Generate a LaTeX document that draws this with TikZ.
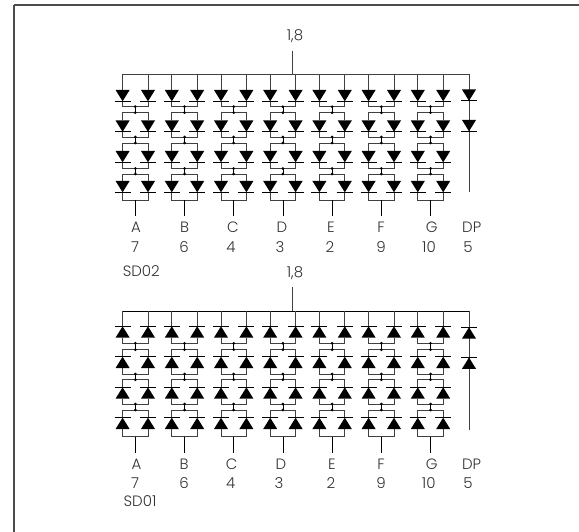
\documentclass[tikz,border=0pt]{standalone}
\usepackage{fontspec}
\setmainfont{Poppins Light}
\tikzset{
  wire/.style={line width=0.8pt,draw=black!75},
  lab/.style={font=\fontsize{15pt}{16pt}\selectfont,text=black!80,inner sep=0pt,anchor=center},
  junc/.style={circle,fill=black,inner sep=0pt,minimum size=3pt},
}
\newcommand{\ddown}[2]{%
  \fill (#1-7,-#2) -- (#1+7,-#2) -- (#1,-#2-11.3) -- cycle;
  \draw[wire,draw=black] (#1-8,-#2-11.3) -- (#1+8,-#2-11.3);
}
\newcommand{\dup}[2]{%
  \fill (#1-7,-#2-11.3) -- (#1+7,-#2-11.3) -- (#1,-#2) -- cycle;
  \draw[wire,draw=black] (#1-8,-#2) -- (#1+8,-#2);
}
\begin{document}
\begin{tikzpicture}[x=1pt,y=1pt]
\useasboundingbox (0,0) rectangle (579,-532);
\coordinate (fa) at (14,-532);
\coordinate (fb) at (14,-5);
\coordinate (fc) at (579,-5);
\draw[line width=1.6pt,draw=black!70] (fa) -- (fb);
\draw[line width=1.1pt,draw=black!70] (fb) -- (fc);
% --- top
\coordinate (busA) at (122.5,-74.3);
\coordinate (busB) at (469,-74.3);
\draw[wire] (busA) -- (busB);
\coordinate (topin) at (292.5,-50.7);
\coordinate (topbus) at (292.5,-74.3);
\draw[wire] (topin) -- (topbus);
\node[lab] (t18) at (295,-36) {1,8};
\foreach \i in {0,...,6}{
  \pgfmathsetmacro{\xm}{135.3+49.2*\i}
  \pgfmathsetmacro{\xl}{\xm-12.7}
  \pgfmathsetmacro{\xr}{\xm+12.7}
  \foreach \ya/\yb/\yc/\yd in {90/120.5/106.7/112.7,120.5/151/137/143,151/181/168.5/174}{
    \draw[wire] (\xl,-\ya-11.3) -- (\xl,-\yc) -- (\xr,-\yc) -- (\xr,-\ya-11.3);
    \draw[wire] (\xl,-\yb) -- (\xl,-\yd) -- (\xr,-\yd) -- (\xr,-\yb);
    \draw[wire,draw=black] (\xm,-\yc) -- (\xm,-\yd);
    \node[junc] at (\xm,-\yc) {};
    \node[junc] at (\xm,-\yd) {};
  }
  \draw[wire] (\xl,-74.3) -- (\xl,-90);
  \draw[wire] (\xr,-74.3) -- (\xr,-90);
  \draw[wire] (\xl,-192.3) -- (\xl,-200.5) -- (\xr,-200.5) -- (\xr,-192.3);
  \draw[wire,draw=black] (\xm,-200.5) -- (\xm,-216.5);
  \foreach \ya in {90,120.5,151,181}{ \ddown{\xl}{\ya} \ddown{\xr}{\ya} }
}
\draw[wire] (469,-74.3) -- (469,-192.5);
\ddown{469}{89.5} \ddown{469}{120}
% --- bottom
\coordinate (busC) at (122.5,-311.3);
\coordinate (busD) at (469,-311.3);
\draw[wire,draw=black] (busC) -- (busD);
\coordinate (botin) at (292.5,-287.3);
\coordinate (botbus) at (292.5,-311.3);
\draw[wire] (botin) -- (botbus);
\node[lab] (b18) at (295,-272.7) {1,8};
\foreach \i in {0,...,6}{
  \pgfmathsetmacro{\xm}{135.3+49.2*\i}
  \pgfmathsetmacro{\xl}{\xm-12.7}
  \pgfmathsetmacro{\xr}{\xm+12.7}
  \foreach \ya/\yb/\yc/\yd in {326.3/356.7/343.3/349.7,356.7/387.3/374/379.7,387.3/417.7/404/410}{
    \draw[wire] (\xl,-\ya-11.3) -- (\xl,-\yc) -- (\xr,-\yc) -- (\xr,-\ya-11.3);
    \draw[wire] (\xl,-\yb) -- (\xl,-\yd) -- (\xr,-\yd) -- (\xr,-\yb);
    \draw[wire,draw=black] (\xm,-\yc) -- (\xm,-\yd);
    \node[junc] at (\xm,-\yc) {};
    \node[junc] at (\xm,-\yd) {};
  }
  \draw[wire] (\xl,-311.3) -- (\xl,-326.3);
  \draw[wire] (\xr,-311.3) -- (\xr,-326.3);
  \draw[wire] (\xl,-429) -- (\xl,-436.7) -- (\xr,-436.7) -- (\xr,-429);
  \draw[wire,draw=black] (\xm,-436.7) -- (\xm,-452.7);
  \foreach \ya in {326.3,356.7,387.3,417.7}{ \dup{\xl}{\ya} \dup{\xr}{\ya} }
}
\draw[wire] (469,-311.3) -- (469,-429.5);
\dup{469}{327.3} \dup{469}{357.5}
% labels
\foreach \la/\nu/\xa/\xb/\xc/\xd in {A/7/136/135/136.5/135,B/6/184.5/184/184/184,C/4/233/231/231.7/230.6,D/3/282/280/281/279,E/2/331/330/332/331,F/9/381/381/381/381,G/10/431.7/429/431.7/428.8,DP/5/471.7/468/471.6/468}{
  \node[lab] at (\xa,-227.7) {\la};
  \node[lab] at (\xb,-246.7) {\nu};
  \node[lab] at (\xc,-464) {\la};
  \node[lab] at (\xd,-482.7) {\nu};
}
\node[lab] (sdb) at (141.3,-270.7) {SD02};
\node[lab] (sda) at (140,-500.7) {SD01};
\end{tikzpicture}
\end{document}
